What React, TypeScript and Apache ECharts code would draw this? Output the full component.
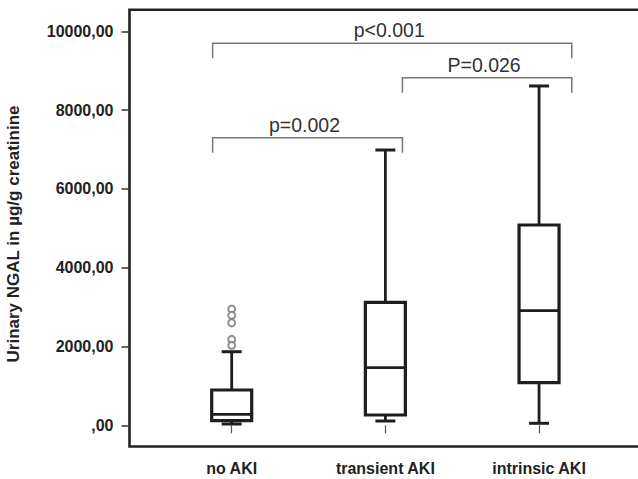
import React, { useEffect, useRef } from 'react';
import * as echarts from 'echarts';

const CATEGORIES = ['no AKI', 'transient AKI', 'intrinsic AKI'];
const CATEGORY_POS = [1, 2, 3];
const WHISKER_LOW = [33, 109, 51];
const Q1 = [117, 261, 1081];
const MEDIAN = [279, 1462, 2909];
const Q3 = [896, 3122, 5084];
const WHISKER_HIGH = [1868, 6987, 8612];
const OUTLIERS_NO_AKI = [2950, 2790, 2600, 2180, 2030];
const Y_TICKS = [0, 2000, 4000, 6000, 8000, 10000];
const BRACKET_X1 = [0.876, 2.111, 0.876];
const BRACKET_X2 = [3.213, 3.213, 2.111];
const BRACKET_Y = [9695, 8822, 7299];
const BRACKET_LABELS = ['p<0.001', 'P=0.026', 'p=0.002'];

const FONT = '"Liberation Sans", Arial, Helvetica, sans-serif';
const INK = '#1e1e1e';

export default function App() {
  const ref = useRef<HTMLDivElement>(null);
  useEffect(() => {
    if (!ref.current) return;
    const chart = echarts.init(ref.current, null, { renderer: 'svg' });
    const boxData = CATEGORY_POS.map((p, i) => [p, WHISKER_LOW[i], Q1[i], MEDIAN[i], Q3[i], WHISKER_HIGH[i]]);
    const bracketData = BRACKET_Y.map((y, i) => [BRACKET_X1[i], BRACKET_X2[i], y]);
    const outlierData = OUTLIERS_NO_AKI.map((v) => [CATEGORY_POS[0], v]);

    chart.setOption({
      animation: false,
      backgroundColor: '#fff',
      grid: {
        left: 129.5,
        top: 9.7,
        right: -10,
        bottom: 32.5,
        containLabel: false,
        outerBoundsMode: 'none',
        show: true,
        borderColor: '#222',
        borderWidth: 2.6,
        backgroundColor: 'transparent',
      },
      xAxis: {
        type: 'value',
        min: 0.335,
        max: 3.709,
        axisLine: { show: false },
        splitLine: { show: false },
        axisTick: { show: true, length: 8, customValues: CATEGORY_POS, lineStyle: { color: '#555', width: 1.2 } },
        axisLabel: {
          customValues: CATEGORY_POS,
          formatter: (v: number) => CATEGORIES[Math.round(v) - 1] ?? '',
          fontWeight: 'bold',
          fontSize: 16,
          fontFamily: FONT,
          color: '#222',
          margin: 14,
        },
      },
      yAxis: {
        type: 'value',
        min: -538,
        max: 10548,
        axisLine: { show: false },
        splitLine: { show: false },
        axisTick: { show: true, length: 8, customValues: Y_TICKS, lineStyle: { color: '#333', width: 1.5 } },
        axisLabel: {
          customValues: Y_TICKS,
          formatter: (v: number) => (v === 0 ? ',00' : v + ',00'),
          fontWeight: 'bold',
          fontSize: 16,
          fontFamily: FONT,
          color: '#222',
          margin: 16,
        },
      },
      graphic: [
        {
          type: 'text',
          x: 13.5,
          y: 234,
          rotation: Math.PI / 2,
          style: {
            text: 'Urinary NGAL in µg/g creatinine',
            fontWeight: 'bold',
            fontSize: 17,
            fontFamily: FONT,
            fill: '#222',
            align: 'center',
            verticalAlign: 'middle',
          },
        },
      ],
      series: [
        {
          type: 'custom',
          data: boxData,
          encode: { x: 0, y: [1, 2, 3, 4, 5] },
          renderItem: (params: any, api: any) => {
            const x = api.value(0);
            const lo = api.coord([x, api.value(1)]);
            const q1 = api.coord([x, api.value(2)]);
            const med = api.coord([x, api.value(3)]);
            const q3 = api.coord([x, api.value(4)]);
            const hi = api.coord([x, api.value(5)]);
            const cx = lo[0];
            const hw = 20;
            const cw = 10;
            const ls = { stroke: INK, lineWidth: 2.8 };
            return {
              type: 'group',
              children: [
                { type: 'line', shape: { x1: cx, y1: hi[1], x2: cx, y2: q3[1] }, style: ls },
                { type: 'line', shape: { x1: cx, y1: q1[1], x2: cx, y2: lo[1] }, style: ls },
                { type: 'line', shape: { x1: cx - cw, y1: hi[1], x2: cx + cw, y2: hi[1] }, style: { stroke: INK, lineWidth: 3 } },
                { type: 'line', shape: { x1: cx - cw, y1: lo[1], x2: cx + cw, y2: lo[1] }, style: { stroke: INK, lineWidth: 3 } },
                {
                  type: 'rect',
                  shape: { x: cx - hw, y: q3[1], width: 2 * hw, height: q1[1] - q3[1] },
                  style: { fill: '#fff', stroke: INK, lineWidth: 3.2 },
                },
                { type: 'line', shape: { x1: cx - hw, y1: med[1], x2: cx + hw, y2: med[1] }, style: ls },
              ],
            };
          },
        },
        {
          type: 'scatter',
          data: outlierData,
          symbol: 'emptyCircle',
          symbolSize: 7,
          itemStyle: { color: '#777', borderWidth: 1.3 },
          z: 5,
        },
        {
          type: 'custom',
          data: bracketData,
          encode: { x: [0, 1], y: 2 },
          renderItem: (params: any, api: any) => {
            const a = api.coord([api.value(0), api.value(2)]);
            const b = api.coord([api.value(1), api.value(2)]);
            const drop = 15;
            return {
              type: 'group',
              children: [
                {
                  type: 'polyline',
                  shape: { points: [[a[0], a[1] + drop], [a[0], a[1]], [b[0], b[1]], [b[0], b[1] + drop]] },
                  style: { stroke: '#777', lineWidth: 1.5, fill: 'none' },
                },
                {
                  type: 'text',
                  x: (a[0] + b[0]) / 2 - 3,
                  y: a[1] - 13,
                  style: {
                    text: BRACKET_LABELS[params.dataIndex],
                    fontSize: 19.5,
                    fontFamily: FONT,
                    fill: '#333',
                    align: 'center',
                    verticalAlign: 'middle',
                  },
                },
              ],
            };
          },
        },
      ],
    });
    return () => chart.dispose();
  }, []);
  return <div ref={ref} style={{ position: 'fixed', left: 0, top: 0, width: 638, height: 479 }} />;
}
